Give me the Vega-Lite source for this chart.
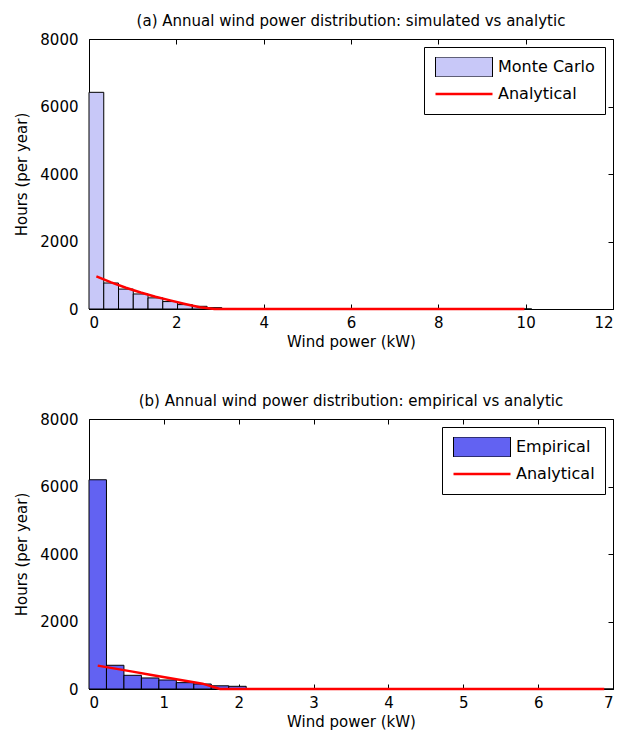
{
  "$schema": "https://vega.github.io/schema/vega-lite/v6.json",
  "background": "white",
  "padding": {"left": 14, "top": 13, "right": 5, "bottom": 5},
  "spacing": 43,
  "config": {
    "font": "DejaVu Sans",
    "view": {"stroke": "black", "strokeWidth": 1},
    "axis": {
      "grid": false,
      "domain": false,
      "ticks": true,
      "tickColor": "black",
      "tickSize": -5,
      "labelFontSize": 15,
      "labelColor": "black",
      "titleFontSize": 15,
      "titleFontWeight": "normal",
      "titleColor": "black"
    },
    "axisX": {"labelPadding": 11, "titlePadding": 4},
    "axisY": {"labelPadding": 16, "titlePadding": 10},
    "title": {"fontSize": 15, "fontWeight": "normal", "color": "black", "offset": 3},
    "legend": {
      "title": null,
      "orient": "top-right",
      "offset": 8,
      "strokeColor": "black",
      "fillColor": "white",
      "padding": 10,
      "labelFontSize": 16,
      "labelColor": "black",
      "labelOffset": 4,
      "rowPadding": 7,
      "clipHeight": 20,
      "symbolSize": 3249,
      "symbolOpacity": 1
    }
  },
  "datasets": {
    "monteCarlo": [
      {"x0": 0, "x1": 0.338, "hours": 6420, "series": "Monte Carlo"},
      {"x0": 0.338, "x1": 0.676, "hours": 770, "series": "Monte Carlo"},
      {"x0": 0.676, "x1": 1.014, "hours": 590, "series": "Monte Carlo"},
      {"x0": 1.014, "x1": 1.352, "hours": 445, "series": "Monte Carlo"},
      {"x0": 1.352, "x1": 1.69, "hours": 330, "series": "Monte Carlo"},
      {"x0": 1.69, "x1": 2.028, "hours": 220, "series": "Monte Carlo"},
      {"x0": 2.028, "x1": 2.366, "hours": 130, "series": "Monte Carlo"},
      {"x0": 2.366, "x1": 2.704, "hours": 80, "series": "Monte Carlo"},
      {"x0": 2.704, "x1": 3.042, "hours": 40, "series": "Monte Carlo"},
      {"x0": 3.042, "x1": 3.38, "hours": 15, "series": "Monte Carlo"},
      {"x0": 3.38, "x1": 3.718, "hours": 5, "series": "Monte Carlo"},
      {"x0": 3.718, "x1": 4.056, "hours": 0, "series": "Monte Carlo"},
      {"x0": 4.056, "x1": 4.394, "hours": 0, "series": "Monte Carlo"},
      {"x0": 4.394, "x1": 4.732, "hours": 0, "series": "Monte Carlo"},
      {"x0": 4.732, "x1": 5.07, "hours": 0, "series": "Monte Carlo"},
      {"x0": 5.07, "x1": 5.408, "hours": 0, "series": "Monte Carlo"},
      {"x0": 5.408, "x1": 5.746, "hours": 0, "series": "Monte Carlo"},
      {"x0": 5.746, "x1": 6.084, "hours": 0, "series": "Monte Carlo"},
      {"x0": 6.084, "x1": 6.422, "hours": 0, "series": "Monte Carlo"},
      {"x0": 6.422, "x1": 6.76, "hours": 0, "series": "Monte Carlo"},
      {"x0": 6.76, "x1": 7.098, "hours": 0, "series": "Monte Carlo"},
      {"x0": 7.098, "x1": 7.436, "hours": 0, "series": "Monte Carlo"},
      {"x0": 7.436, "x1": 7.774, "hours": 0, "series": "Monte Carlo"},
      {"x0": 7.774, "x1": 8.112, "hours": 0, "series": "Monte Carlo"},
      {"x0": 8.112, "x1": 8.45, "hours": 0, "series": "Monte Carlo"},
      {"x0": 8.45, "x1": 8.788, "hours": 0, "series": "Monte Carlo"},
      {"x0": 8.788, "x1": 9.126, "hours": 0, "series": "Monte Carlo"},
      {"x0": 9.126, "x1": 9.464, "hours": 0, "series": "Monte Carlo"},
      {"x0": 9.464, "x1": 9.802, "hours": 0, "series": "Monte Carlo"},
      {"x0": 9.802, "x1": 10.14, "hours": 0, "series": "Monte Carlo"}
    ],
    "analyticA": [
      {"x": 0.169, "hours": 965, "series": "Analytical"},
      {"x": 0.507, "hours": 790, "series": "Analytical"},
      {"x": 0.845, "hours": 630, "series": "Analytical"},
      {"x": 1.183, "hours": 490, "series": "Analytical"},
      {"x": 1.521, "hours": 365, "series": "Analytical"},
      {"x": 1.859, "hours": 255, "series": "Analytical"},
      {"x": 2.197, "hours": 150, "series": "Analytical"},
      {"x": 2.535, "hours": 55, "series": "Analytical"},
      {"x": 2.873, "hours": 0, "series": "Analytical"},
      {"x": 3.211, "hours": 0, "series": "Analytical"},
      {"x": 3.549, "hours": 0, "series": "Analytical"},
      {"x": 3.887, "hours": 0, "series": "Analytical"},
      {"x": 4.225, "hours": 0, "series": "Analytical"},
      {"x": 4.563, "hours": 0, "series": "Analytical"},
      {"x": 4.901, "hours": 0, "series": "Analytical"},
      {"x": 5.239, "hours": 0, "series": "Analytical"},
      {"x": 5.577, "hours": 0, "series": "Analytical"},
      {"x": 5.915, "hours": 0, "series": "Analytical"},
      {"x": 6.253, "hours": 0, "series": "Analytical"},
      {"x": 6.591, "hours": 0, "series": "Analytical"},
      {"x": 6.929, "hours": 0, "series": "Analytical"},
      {"x": 7.267, "hours": 0, "series": "Analytical"},
      {"x": 7.605, "hours": 0, "series": "Analytical"},
      {"x": 7.943, "hours": 0, "series": "Analytical"},
      {"x": 8.281, "hours": 0, "series": "Analytical"},
      {"x": 8.619, "hours": 0, "series": "Analytical"},
      {"x": 8.957, "hours": 0, "series": "Analytical"},
      {"x": 9.295, "hours": 0, "series": "Analytical"},
      {"x": 9.633, "hours": 0, "series": "Analytical"},
      {"x": 9.971, "hours": 0, "series": "Analytical"}
    ],
    "empirical": [
      {"x0": 0, "x1": 0.2333, "hours": 6200, "series": "Empirical"},
      {"x0": 0.2333, "x1": 0.4667, "hours": 703, "series": "Empirical"},
      {"x0": 0.4667, "x1": 0.7, "hours": 406, "series": "Empirical"},
      {"x0": 0.7, "x1": 0.9333, "hours": 327, "series": "Empirical"},
      {"x0": 0.9333, "x1": 1.1667, "hours": 267, "series": "Empirical"},
      {"x0": 1.1667, "x1": 1.4, "hours": 188, "series": "Empirical"},
      {"x0": 1.4, "x1": 1.6333, "hours": 148, "series": "Empirical"},
      {"x0": 1.6333, "x1": 1.8667, "hours": 95, "series": "Empirical"},
      {"x0": 1.8667, "x1": 2.1, "hours": 80, "series": "Empirical"},
      {"x0": 2.1, "x1": 2.3333, "hours": 0, "series": "Empirical"},
      {"x0": 2.3333, "x1": 2.5667, "hours": 0, "series": "Empirical"},
      {"x0": 2.5667, "x1": 2.8, "hours": 0, "series": "Empirical"},
      {"x0": 2.8, "x1": 3.0333, "hours": 0, "series": "Empirical"},
      {"x0": 3.0333, "x1": 3.2667, "hours": 0, "series": "Empirical"},
      {"x0": 3.2667, "x1": 3.5, "hours": 0, "series": "Empirical"},
      {"x0": 3.5, "x1": 3.7333, "hours": 0, "series": "Empirical"},
      {"x0": 3.7333, "x1": 3.9667, "hours": 0, "series": "Empirical"},
      {"x0": 3.9667, "x1": 4.2, "hours": 0, "series": "Empirical"},
      {"x0": 4.2, "x1": 4.4333, "hours": 0, "series": "Empirical"},
      {"x0": 4.4333, "x1": 4.6667, "hours": 0, "series": "Empirical"},
      {"x0": 4.6667, "x1": 4.9, "hours": 0, "series": "Empirical"},
      {"x0": 4.9, "x1": 5.1333, "hours": 0, "series": "Empirical"},
      {"x0": 5.1333, "x1": 5.3667, "hours": 0, "series": "Empirical"},
      {"x0": 5.3667, "x1": 5.6, "hours": 0, "series": "Empirical"},
      {"x0": 5.6, "x1": 5.8333, "hours": 0, "series": "Empirical"},
      {"x0": 5.8333, "x1": 6.0667, "hours": 0, "series": "Empirical"},
      {"x0": 6.0667, "x1": 6.3, "hours": 0, "series": "Empirical"},
      {"x0": 6.3, "x1": 6.5333, "hours": 0, "series": "Empirical"},
      {"x0": 6.5333, "x1": 6.7667, "hours": 0, "series": "Empirical"},
      {"x0": 6.7667, "x1": 7.0, "hours": 0, "series": "Empirical"}
    ],
    "analyticB": [
      {"x": 0.1167, "hours": 693, "series": "Analytical"},
      {"x": 0.35, "hours": 604, "series": "Analytical"},
      {"x": 0.5833, "hours": 515, "series": "Analytical"},
      {"x": 0.8167, "hours": 425, "series": "Analytical"},
      {"x": 1.05, "hours": 336, "series": "Analytical"},
      {"x": 1.2833, "hours": 247, "series": "Analytical"},
      {"x": 1.5167, "hours": 158, "series": "Analytical"},
      {"x": 1.75, "hours": 0, "series": "Analytical"},
      {"x": 1.9833, "hours": 0, "series": "Analytical"},
      {"x": 2.2167, "hours": 0, "series": "Analytical"},
      {"x": 2.45, "hours": 0, "series": "Analytical"},
      {"x": 2.6833, "hours": 0, "series": "Analytical"},
      {"x": 2.9167, "hours": 0, "series": "Analytical"},
      {"x": 3.15, "hours": 0, "series": "Analytical"},
      {"x": 3.3833, "hours": 0, "series": "Analytical"},
      {"x": 3.6167, "hours": 0, "series": "Analytical"},
      {"x": 3.85, "hours": 0, "series": "Analytical"},
      {"x": 4.0833, "hours": 0, "series": "Analytical"},
      {"x": 4.3167, "hours": 0, "series": "Analytical"},
      {"x": 4.55, "hours": 0, "series": "Analytical"},
      {"x": 4.7833, "hours": 0, "series": "Analytical"},
      {"x": 5.0167, "hours": 0, "series": "Analytical"},
      {"x": 5.25, "hours": 0, "series": "Analytical"},
      {"x": 5.4833, "hours": 0, "series": "Analytical"},
      {"x": 5.7167, "hours": 0, "series": "Analytical"},
      {"x": 5.95, "hours": 0, "series": "Analytical"},
      {"x": 6.1833, "hours": 0, "series": "Analytical"},
      {"x": 6.4167, "hours": 0, "series": "Analytical"},
      {"x": 6.65, "hours": 0, "series": "Analytical"},
      {"x": 6.8833, "hours": 0, "series": "Analytical"}
    ]
  },
  "vconcat": [
    {
      "title": "(a) Annual wind power distribution: simulated vs analytic",
      "width": 524,
      "height": 270,
      "layer": [
        {
          "data": {"name": "monteCarlo"},
          "mark": {"type": "bar", "stroke": "black", "strokeWidth": 1},
          "encoding": {
            "x": {"field": "x0", "type": "quantitative", "scale": {"domain": [0, 12], "nice": false},
                  "axis": {"title": "Wind power (kW)", "values": [0, 2, 4, 6, 8, 10, 12]}},
            "x2": {"field": "x1"},
            "y": {"field": "hours", "type": "quantitative", "scale": {"domain": [0, 8000], "nice": false},
                  "axis": {"title": "Hours (per year)", "values": [0, 2000, 4000, 6000, 8000], "format": "d"}},
            "y2": {"datum": 0},
            "color": {"field": "series", "type": "nominal",
                      "scale": {"domain": ["Monte Carlo", "Analytical"], "range": ["#c8c8f8", "#ff0000"]}}
          }
        },
        {
          "data": {"name": "analyticA"},
          "mark": {"type": "line"},
          "encoding": {
            "x": {"field": "x", "type": "quantitative",
                  "axis": {"orient": "top", "labels": false, "title": null, "values": [0, 2, 4, 6, 8, 10, 12]}},
            "y": {"field": "hours", "type": "quantitative",
                  "axis": {"orient": "right", "labels": false, "title": null, "values": [0, 2000, 4000, 6000, 8000]}},
            "stroke": {"field": "series", "type": "nominal",
                       "scale": {"domain": ["Monte Carlo", "Analytical"], "range": ["#000000", "#ff0000"]}},
            "strokeWidth": {"field": "series", "type": "nominal",
                            "scale": {"domain": ["Monte Carlo", "Analytical"], "range": [1, 2.5]}}
          }
        },
        {
          "data": {"name": "analyticA"},
          "mark": {"type": "point", "opacity": 0},
          "encoding": {
            "x": {"field": "x", "type": "quantitative", "axis": null},
            "y": {"field": "hours", "type": "quantitative", "axis": null},
            "shape": {"field": "series", "type": "nominal",
                      "scale": {"domain": ["Monte Carlo", "Analytical"], "range": ["M-1,-0.35H1V0.35H-1Z", "M-1,0H1"]}}
          }
        }
      ],
      "resolve": {"axis": {"x": "independent", "y": "independent"}}
    },
    {
      "title": "(b) Annual wind power distribution: empirical vs analytic",
      "width": 524,
      "height": 270,
      "layer": [
        {
          "data": {"name": "empirical"},
          "mark": {"type": "bar", "stroke": "black", "strokeWidth": 1},
          "encoding": {
            "x": {"field": "x0", "type": "quantitative", "scale": {"domain": [0, 7], "nice": false},
                  "axis": {"title": "Wind power (kW)", "values": [0, 1, 2, 3, 4, 5, 6, 7]}},
            "x2": {"field": "x1"},
            "y": {"field": "hours", "type": "quantitative", "scale": {"domain": [0, 8000], "nice": false},
                  "axis": {"title": "Hours (per year)", "values": [0, 2000, 4000, 6000, 8000], "format": "d"}},
            "y2": {"datum": 0},
            "color": {"field": "series", "type": "nominal",
                      "scale": {"domain": ["Empirical", "Analytical"], "range": ["#6262f2", "#ff0000"]}}
          }
        },
        {
          "data": {"name": "analyticB"},
          "mark": {"type": "line"},
          "encoding": {
            "x": {"field": "x", "type": "quantitative",
                  "axis": {"orient": "top", "labels": false, "title": null, "values": [0, 1, 2, 3, 4, 5, 6, 7]}},
            "y": {"field": "hours", "type": "quantitative",
                  "axis": {"orient": "right", "labels": false, "title": null, "values": [0, 2000, 4000, 6000, 8000]}},
            "stroke": {"field": "series", "type": "nominal",
                       "scale": {"domain": ["Empirical", "Analytical"], "range": ["#000000", "#ff0000"]}},
            "strokeWidth": {"field": "series", "type": "nominal",
                            "scale": {"domain": ["Empirical", "Analytical"], "range": [1, 2.5]}}
          }
        },
        {
          "data": {"name": "analyticB"},
          "mark": {"type": "point", "opacity": 0},
          "encoding": {
            "x": {"field": "x", "type": "quantitative", "axis": null},
            "y": {"field": "hours", "type": "quantitative", "axis": null},
            "shape": {"field": "series", "type": "nominal",
                      "scale": {"domain": ["Empirical", "Analytical"], "range": ["M-1,-0.35H1V0.35H-1Z", "M-1,0H1"]}}
          }
        }
      ],
      "resolve": {"axis": {"x": "independent", "y": "independent"}}
    }
  ],
  "resolve": {"scale": {"color": "independent", "stroke": "independent", "strokeWidth": "independent", "shape": "independent"}}
}
